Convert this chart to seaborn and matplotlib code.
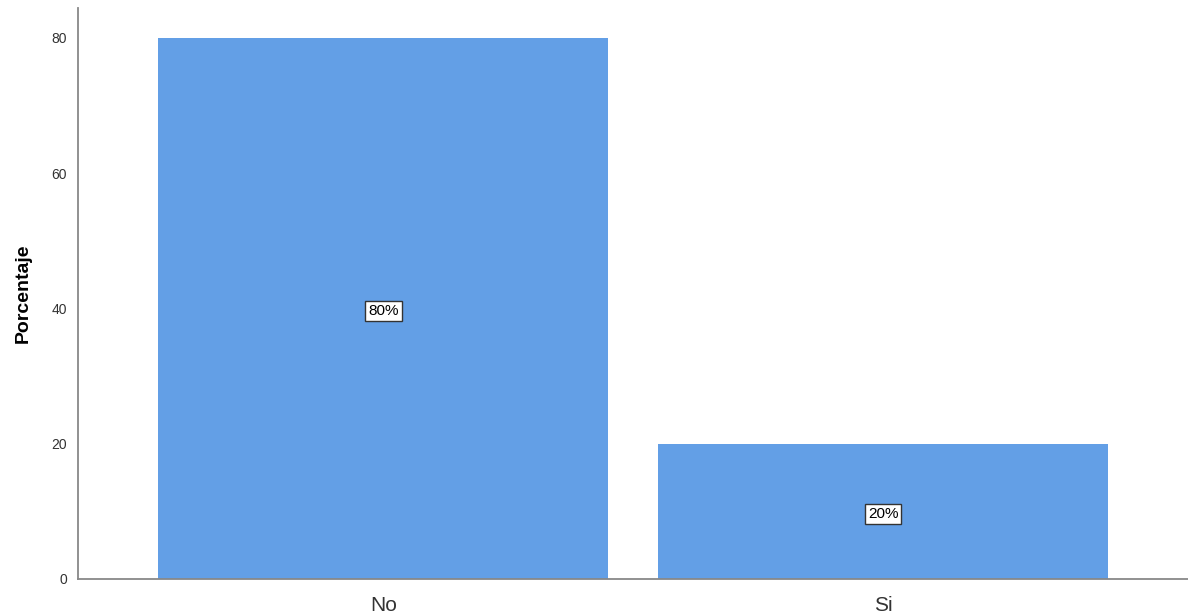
import matplotlib
matplotlib.use("Agg")
import matplotlib.pyplot as plt
import seaborn as sns
import pandas as pd

categories = ["No", "Si"]
percentages = [80, 20]
value_labels = ["80%", "20%"]
yticks = [0, 20, 40, 60, 80]

sns.set_theme(style="white")
plt.rcParams["font.family"] = ["Liberation Sans", "DejaVu Sans"]

df = pd.DataFrame({"cat": categories, "pct": percentages})

fig = plt.figure(figsize=(11.88, 6.16), dpi=100)
ax = fig.add_axes([78 / 1188, 37 / 616, 1 - 78 / 1188, (579 - 8) / 616])

sns.barplot(data=df, x="cat", y="pct", color="#639fe6", saturation=1,
            width=0.9, linewidth=0, ax=ax)

ax.set_xlim(-0.611, 1.61)
ax.set_ylim(0, 84.4)
ax.set_yticks(yticks)
ax.set_yticklabels([str(t) for t in yticks], fontsize=10, color="#333333")
ax.tick_params(axis="x", labelsize=15, colors="#333333", length=0, pad=12)
ax.tick_params(axis="y", length=0, pad=8)
ax.set_xlabel("")
ax.set_ylabel("Porcentaje", fontsize=14, fontweight="bold", color="black", labelpad=14)

for s in ["top", "right"]:
    ax.spines[s].set_visible(False)
for s in ["left", "bottom"]:
    ax.spines[s].set_color("#888888")
    ax.spines[s].set_linewidth(1.3)

for i, (v, lab) in enumerate(zip(percentages, value_labels)):
    ax.text(i, v / 2 - 0.4, lab, ha="center", va="center", fontsize=11, color="black",
            bbox=dict(boxstyle="square,pad=0.2", fc="white", ec="#333333", lw=1))

fig.savefig("out.png", dpi=100)
